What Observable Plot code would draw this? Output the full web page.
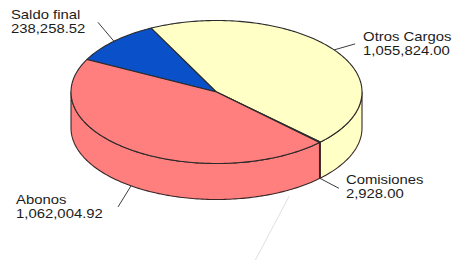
<!DOCTYPE html>
<html><head><meta charset="utf-8">
<script src="https://cdn.jsdelivr.net/npm/d3@7"></script>
<script src="https://cdn.jsdelivr.net/npm/@observablehq/plot@0.6"></script>
<style>body{margin:0;background:#fff} svg{display:block}</style>
</head><body><div id="chart"></div>
<script>
// ---- data ----
const categories = ["Saldo final", "Otros Cargos", "Comisiones", "Abonos"];
const values = [238258.52, 1055824.00, 2928.00, 1062004.92];
const palette = ["#0a50c8", "#ffffc6", "#f2f2b0", "#ff7e7e"];

// ---- layout ----
const W = 456, H = 260;
const pie = {cx: 216, cy: 91.5, rx: 145.5, ry: 71.5, depth: 36, start: 207};
const labelLayout = [
  {lead: [-16, -19], text: [-87, -11.5]},
  {lead: [21, -6], text: [8, -11.5]},
  {lead: [19, 10], text: [7, -12.5]},
  {lead: [-13, 21], text: [-102, -11.5]}
];
const lineGap = 14, fontSize = 12, stretch = 1.24;
const ghost = {angle: 60, gap: 6, vec: [-37, 70]};

const fmt = d3.format(",.2f");
const total = d3.sum(values);
const rad = Math.PI / 180;
let acc = pie.start;
const slices = categories.map((c, i) => {
  const a0 = acc, a1 = acc + values[i] / total * 360;
  acc = a1;
  return {cat: c, value: values[i], a0, a1, mid: (a0 + a1) / 2, i};
});
function pt(a, dz = 0) {
  return [pie.cx + pie.rx * Math.cos(a * rad), pie.cy + pie.ry * Math.sin(a * rad) + dz];
}
function arc(a0, a1, dz) {
  const n = Math.max(2, Math.ceil(a1 - a0) + 1), out = [];
  for (let k = 0; k < n; k++) out.push(pt(a0 + (a1 - a0) * k / (n - 1), dz));
  return out;
}
const sides = [], tops = [];
slices.forEach(s => {
  [[0, 180], [360, 540]].forEach(([lo, hi], j) => {
    const a = Math.max(s.a0, lo), b = Math.min(s.a1, hi);
    if (b > a) {
      const poly = [...arc(a, b, 0), ...arc(a, b, pie.depth).reverse()];
      poly.forEach(p => sides.push({id: s.cat + "-side" + j, cat: s.cat, x: p[0], y: p[1]}));
    }
  });
  const poly = [[pie.cx, pie.cy], ...arc(s.a0, s.a1, 0)];
  poly.forEach(p => tops.push({id: s.cat + "-top", cat: s.cat, x: p[0], y: p[1]}));
});
const leaders = slices.map((s, i) => {
  const front = Math.sin(s.mid * rad) > 0;
  const [x1, y1] = pt(s.mid, front ? pie.depth : 0);
  const L = labelLayout[i];
  const x2 = x1 + L.lead[0], y2 = y1 + L.lead[1];
  return {cat: s.cat, x1, y1, x2, y2, tx: x2 + L.text[0], ty: y2 + L.text[1], value: fmt(s.value)};
});
const labelLines = leaders.flatMap(d => [
  {x: d.tx, y: d.ty, text: d.cat},
  {x: d.tx, y: d.ty + lineGap, text: d.value}
]);
const g0 = pt(ghost.angle, pie.depth);
const ghostLine = [{x1: g0[0], y1: g0[1] + ghost.gap, x2: g0[0] + ghost.vec[0], y2: g0[1] + ghost.gap + ghost.vec[1]}];

const chart = Plot.plot({
  width: W, height: H, margin: 0,
  x: {domain: [0, W], range: [0, W], axis: null},
  y: {domain: [0, H], range: [0, H], axis: null},
  color: {domain: categories, range: palette},
  style: {fontFamily: "'Liberation Sans', Arial, sans-serif", background: "#fff"},
  marks: [
    Plot.link(ghostLine, {x1: "x1", y1: "y1", x2: "x2", y2: "y2", stroke: "#e0e0e0", strokeWidth: 1}),
    Plot.line(sides, {x: "x", y: "y", z: "id", fill: "cat", stroke: "#3a2626", strokeWidth: 1.1, curve: "linear-closed"}),
    Plot.line(tops, {x: "x", y: "y", z: "id", fill: "cat", stroke: "#2a2a2a", strokeWidth: 1.1, curve: "linear-closed"}),
    Plot.link(leaders, {x1: "x1", y1: "y1", x2: "x2", y2: "y2", stroke: "#3c3c3c", strokeWidth: 1}),
    Plot.text(labelLines, {x: "x", y: "y", text: "text", textAnchor: "start", lineAnchor: "top",
      fontSize, fill: "#1c1c1c"})
  ]
});
// widen label glyphs horizontally (the reference text is wide and tightly set)
d3.select(chart).selectAll("g[aria-label='text'] text").each(function () {
  const t = d3.select(this);
  const tr = t.attr("transform") || "";
  const xAttr = t.attr("x");
  if (xAttr != null && !/translate/.test(tr)) {
    const x = +xAttr;
    t.attr("transform", `translate(${x},0) scale(${stretch},1) translate(${-x},0) ${tr}`);
  } else {
    t.attr("transform", `${tr} scale(${stretch},1)`);
  }
});
document.getElementById("chart").appendChild(chart);
</script>
</body></html>
